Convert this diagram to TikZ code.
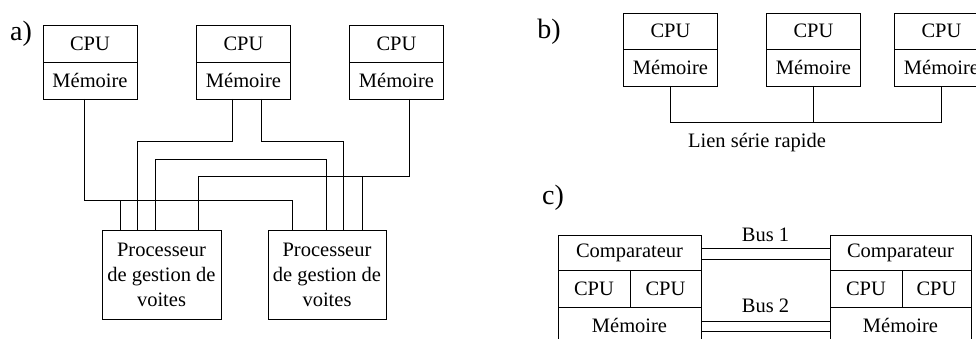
\documentclass[tikz,border=0pt]{standalone}
\usepackage{fontspec}
\setmainfont{Liberation Serif}
\usetikzlibrary{positioning}

\begin{document}
\begin{tikzpicture}[
        x=1pt, y=-1pt,
        txt/.style={font=\fontsize{20.5}{24}\selectfont},
        cell/.style={txt, draw, line width=0.9pt, inner sep=0pt, outer sep=0pt,
                     minimum width=94pt, minimum height=37pt},
        proc/.style={cell, align=center, minimum width=119pt, minimum height=89pt,
                     font=\fontsize{20.5}{25}\selectfont},
        tag/.style={font=\fontsize{28}{30}\selectfont},
        wire/.style={line width=0.9pt}
    ]
    \useasboundingbox (0,0) rectangle (976,339);
    \clip (0,0) rectangle (976,339);

    % a) three nodes, two track processors
    \node[tag] (taga) at (21,34) {a)};
    \node[cell] (a1cpu) at ( 90.0,43.5) {CPU};
    \node[cell] (a2cpu) at (243.5,43.5) {CPU};
    \node[cell] (a3cpu) at (396.5,43.5) {CPU};
    \node[cell, below=0pt of a1cpu] (a1mem) {Mémoire};
    \node[cell, below=0pt of a2cpu] (a2mem) {Mémoire};
    \node[cell, below=0pt of a3cpu] (a3mem) {Mémoire};
    \node[proc] (pgv1) at (161.5,274.5) {Processeur\\de gestion de\\voites};
    \node[proc, minimum width=118pt] (pgv2) at (327,274.5) {Processeur\\de gestion de\\voites};

    \coordinate (p1a) at ([xshift=-41.5pt]pgv1.north);
    \coordinate (p1b) at ([xshift=-24.5pt]pgv1.north);
    \coordinate (p1c) at ([xshift=-6.5pt]pgv1.north);
    \coordinate (p1d) at ([xshift=36.5pt]pgv1.north);
    \coordinate (p2a) at ([xshift=-35pt]pgv2.north);
    \coordinate (p2b) at ([xshift=-1pt]pgv2.north);
    \coordinate (p2c) at ([xshift=16pt]pgv2.north);
    \coordinate (p2d) at ([xshift=35pt]pgv2.north);

    \draw[wire] ([xshift=-6pt]a1mem.south) -- ++(0,101) -| (p2a);
    \draw[wire] (p1a) -- ++(0,-30);
    \draw[wire] ([xshift=-11.5pt]a2mem.south) -- ++(0,42) -| (p1b);
    \draw[wire] ([xshift=17.5pt]a2mem.south) -- ++(0,42) -| (p2c);
    \draw[wire] (p1c) -- ++(0,-71) -| (p2b);
    \draw[wire] ([xshift=12.5pt]a3mem.south) -- ++(0,77) -| (p1d);
    \draw[wire] (p2d) -- ++(0,-54);

    % b) serial link
    \node[tag] (tagb) at (549,32) {b)};
    \node[cell, minimum height=36pt] (b1cpu) at (670.5,31) {CPU};
    \node[cell, minimum height=36pt] (b2cpu) at (813.5,31) {CPU};
    \node[cell, minimum height=36pt] (b3cpu) at (941.5,31) {CPU};
    \node[cell, below=0pt of b1cpu] (b1mem) {Mémoire};
    \node[cell, below=0pt of b2cpu] (b2mem) {Mémoire};
    \node[cell, below=0pt of b3cpu] (b3mem) {Mémoire};
    \node[txt] (lien) at (757,143) {Lien série rapide};

    \draw[wire] (b1mem.south) -- ++(0,36) -| (b3mem.south);
    \draw[wire] (b2mem.south) -- ++(0,36);

    % c) two buses
    \node[tag] (tagc) at (553,198) {c)};
    \node[cell, minimum width=143pt, minimum height=35pt] (lcomp) at (629.5,252.5) {Comparateur};
    \node[cell, minimum width=72pt, anchor=north west] (lcpu1) at (lcomp.south west) {CPU};
    \node[cell, minimum width=71pt, anchor=north west] (lcpu2) at (lcpu1.north east) {CPU};
    \node[cell, minimum width=143pt, below=37pt of lcomp] (lmem) {Mémoire};
    \node[cell, minimum width=141pt, minimum height=35pt] (rcomp) at (900.5,252.5) {Comparateur};
    \node[cell, minimum width=72pt, anchor=north west] (rcpu1) at (rcomp.south west) {CPU};
    \node[cell, minimum width=69pt, anchor=north west] (rcpu2) at (rcpu1.north east) {CPU};
    \node[cell, minimum width=141pt, below=37pt of rcomp] (rmem) {Mémoire};

    \draw[wire] ([yshift=4.5pt]lcomp.east) -- node[txt, above=3pt] (bus1) {Bus 1} ([yshift=4.5pt]rcomp.west);
    \draw[wire] ([yshift=-6.5pt]lcomp.east) -- ([yshift=-6.5pt]rcomp.west);
    \draw[wire] ([yshift=4.5pt]lmem.east) -- node[txt, above=5pt] (bus2) {Bus 2} ([yshift=4.5pt]rmem.west);
    \draw[wire] ([yshift=-5.5pt]lmem.east) -- ([yshift=-5.5pt]rmem.west);
\end{tikzpicture}
\end{document}
